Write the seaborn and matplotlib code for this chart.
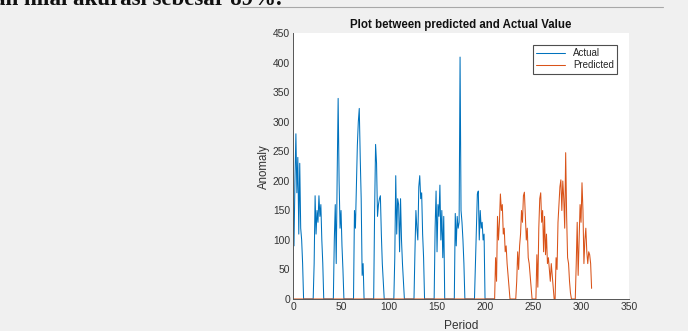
import numpy as np
import pandas as pd
import matplotlib
matplotlib.use("Agg")
import matplotlib.pyplot as plt
import seaborn as sns
from matplotlib.lines import Line2D

# Actual anomaly, period 0..210 (one cycle of 21 periods per row)
actual_c1 = [140, 90, 200, 280, 180, 240, 110, 230, 120, 100, 60, 0, 0, 0, 0, 0, 0, 0, 0, 0, 0]
actual_c2 = [0, 60, 175, 110, 150, 130, 175, 140, 160, 100, 60, 0, 0, 0, 0, 0, 0, 0, 0, 0, 0]
actual_c3 = [0, 100, 160, 60, 210, 340, 200, 120, 150, 90, 50, 0, 0, 0, 0, 0, 0, 0, 0, 0, 0]
actual_c4 = [0, 150, 120, 190, 260, 300, 323, 240, 170, 40, 60, 0, 0, 0, 0, 0, 0, 0, 0, 0, 0]
actual_c5 = [0, 150, 262, 230, 140, 160, 170, 175, 110, 60, 30, 0, 0, 0, 0, 0, 0, 0, 0, 0, 0]
actual_c6 = [0, 70, 209, 110, 170, 160, 80, 170, 100, 60, 30, 0, 0, 0, 0, 0, 0, 0, 0, 0, 0]
actual_c7 = [0, 80, 150, 120, 100, 190, 209, 170, 180, 110, 70, 0, 0, 0, 0, 0, 0, 0, 0, 0, 0]
actual_c8 = [0, 120, 183, 80, 160, 140, 193, 100, 150, 70, 140, 0, 0, 0, 0, 0, 0, 0, 0, 0, 0]
actual_c9 = [0, 145, 90, 140, 120, 130, 410, 150, 130, 100, 60, 0, 0, 0, 0, 0, 0, 0, 0, 0, 0]
actual_c10 = [0, 60, 120, 178, 183, 100, 150, 120, 130, 100, 110, 0, 0, 0, 0, 0, 0, 0, 0, 0, 0, 0]

# Predicted anomaly: zero up to period 210, then five predicted cycles
pred_zero = [0] * 211
pred_a = [70, 30, 140, 100, 130, 178, 150, 160, 110, 120, 80, 90, 60, 40, 20, 0, 0, 0, 0, 0, 0]
pred_b = [0, 30, 80, 50, 90, 110, 150, 130, 175, 181, 140, 100, 120, 70, 60, 40, 20, 0, 0, 0, 0]
pred_c = [0, 75, 20, 120, 170, 180, 130, 150, 80, 140, 75, 110, 60, 70, 50, 30, 60, 40, 20, 0, 0]
pred_d = [70, 50, 130, 160, 190, 202, 150, 200, 170, 120, 248, 140, 70, 60, 30, 10, 0, 0, 0]
pred_e = [0, 0, 60, 130, 40, 100, 160, 130, 197, 150, 60, 100, 120, 80, 60, 80, 75, 60, 18]

x_ticks = [0, 50, 100, 150, 200, 250, 300, 350]
y_ticks = [0, 50, 100, 150, 200, 250, 300, 350, 400, 450]

actual = (actual_c1 + actual_c2 + actual_c3 + actual_c4 + actual_c5 + actual_c6
          + actual_c7 + actual_c8 + actual_c9 + actual_c10)
predicted = pred_zero + pred_a + pred_b + pred_c + pred_d + pred_e

df = pd.concat([
    pd.DataFrame({"Period": np.arange(len(actual)), "Anomaly": actual, "Series": "Actual"}),
    pd.DataFrame({"Period": np.arange(len(predicted)), "Anomaly": predicted, "Series": "Predicted"}),
])

sns.set_style("white")
plt.rcParams["font.family"] = ["Liberation Sans", "DejaVu Sans"]

fig = plt.figure(figsize=(6.88, 3.31), dpi=100, facecolor="#f0f0f0")
ax = fig.add_axes([0.4259, 0.0967, 0.4884, 0.8021])
ax.set_facecolor("white")

sns.lineplot(data=df, x="Period", y="Anomaly", hue="Series", ax=ax,
             palette={"Actual": "#0072BD", "Predicted": "#D95319"},
             linewidth=0.75, estimator=None, sort=False)

ax.set_xlim(0, 350)
ax.set_ylim(0, 450)
ax.set_xticks(x_ticks)
ax.set_yticks(y_ticks)
ax.tick_params(direction="in", length=2.5, width=0.6, colors="#444444",
               labelsize=7.4, labelcolor="#333333", pad=2)
for side in ["top", "right"]:
    ax.spines[side].set_visible(False)
for side in ["left", "bottom"]:
    ax.spines[side].set_color("#555555")
    ax.spines[side].set_linewidth(0.7)

ax.set_xlabel("Period", fontsize=8.6, color="#333333", labelpad=6)
ax.set_ylabel("Anomaly", fontsize=8.3, color="#333333", labelpad=2)
ax.set_title("Plot between predicted and Actual Value", fontsize=8.3,
             fontweight="bold", color="#111111", pad=4)

leg = ax.legend(loc="upper right", fontsize=7.0, handlelength=3.0, frameon=True,
                fancybox=False, borderpad=0.35, labelspacing=0.2,
                bbox_to_anchor=(0.98, 0.975))
leg.get_frame().set_edgecolor("#222222")
leg.get_frame().set_linewidth(0.8)

# document text cut off at the top of the screenshot, and page rule
fig.text(-0.008, 0.985, "an nilai akurasi sebesar 89%.", fontsize=16.5,
         family=["Liberation Serif", "DejaVu Serif"], fontweight="bold",
         va="baseline", ha="left", color="#111111")
fig.add_artist(Line2D([240 / 688, 663 / 688], [1 - 7 / 331, 1 - 7 / 331],
                      transform=fig.transFigure, color="#a8a8a8", lw=0.8))

fig.savefig("out.png", dpi=100, facecolor=fig.get_facecolor())
